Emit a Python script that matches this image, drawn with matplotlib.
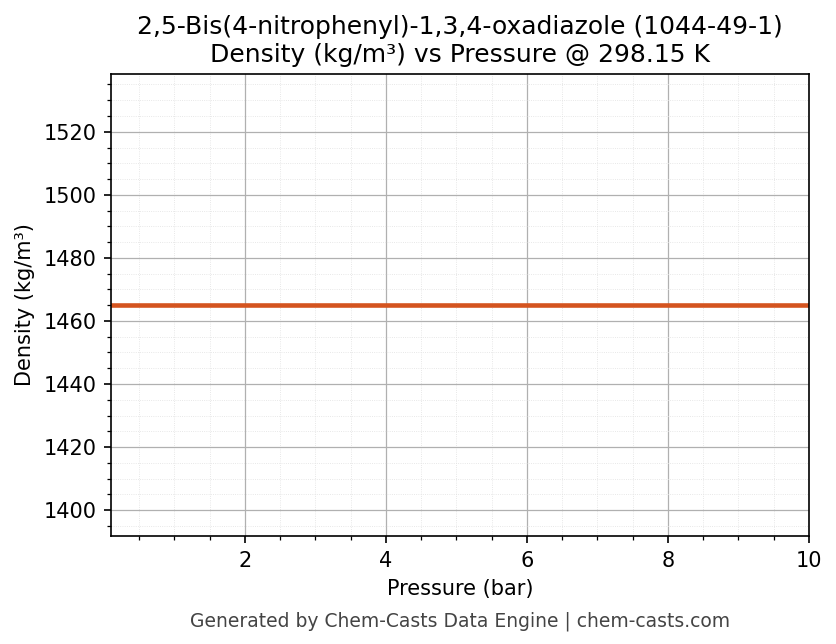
import matplotlib
matplotlib.use("Agg")
import matplotlib.pyplot as plt
from matplotlib.ticker import AutoMinorLocator

pressure = [0.1, 1, 2, 3, 4, 5, 6, 7, 8, 9, 10]
density = [1465.05] * len(pressure)

fig = plt.figure(figsize=(836/150, 644/150), dpi=150)
ax = fig.add_axes([0.1328, 0.1677, 0.8349, 0.7173])
ax.plot(pressure, density, color="#d4541f", linewidth=2.2)
ax.set_xlim(0.1, 10)
ax.set_ylim(1391.8, 1538.3)
ax.xaxis.set_minor_locator(AutoMinorLocator())
ax.yaxis.set_minor_locator(AutoMinorLocator())
ax.grid(True, which="major", color="#b0b0b0", linewidth=0.6)
ax.grid(True, which="minor", color="#e0e0e0", linewidth=0.4, linestyle=":")
ax.set_xlabel("Pressure (bar)")
ax.set_ylabel("Density (kg/m³)")
ax.set_title("2,5-Bis(4-nitrophenyl)-1,3,4-oxadiazole (1044-49-1)\nDensity (kg/m³) vs Pressure @ 298.15 K", fontsize=12)
fig.text(0.55, 0.027, "Generated by Chem-Casts Data Engine | chem-casts.com", ha="center", fontsize=9, color="#444444")
fig.savefig("out.png", dpi=150)
